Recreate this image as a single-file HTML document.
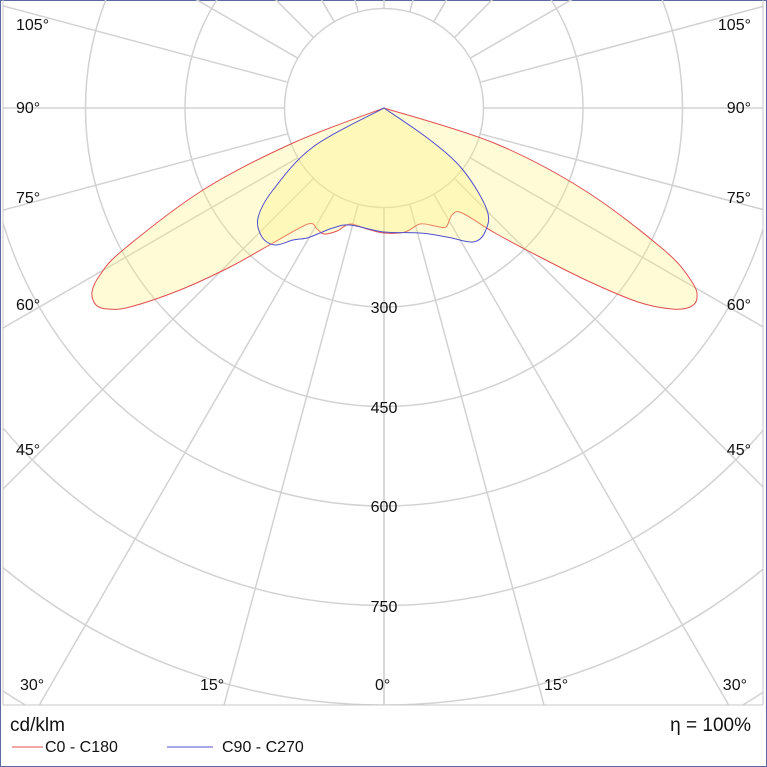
<!DOCTYPE html>
<html><head><meta charset="utf-8"><style>
html,body{margin:0;padding:0;background:#fff;overflow:hidden;width:767px;height:767px}
svg{position:absolute;left:0;top:0;overflow:hidden}
text{font-family:"Liberation Sans",sans-serif;fill:#111}
</style></head><body>
<svg width="767" height="767" viewBox="0 0 767 767" xmlns="http://www.w3.org/2000/svg">
<defs><clipPath id="c"><rect x="3" y="0" width="760" height="705"/></clipPath></defs>
<rect x="0.5" y="0.5" width="766" height="766" fill="#fff" stroke="#5a6aa0"/>
<g clip-path="url(#c)" stroke="#d2d2d2" stroke-width="1.5" fill="none">
<circle cx="384" cy="108" r="99.5"/>
<circle cx="384" cy="108" r="199"/>
<circle cx="384" cy="108" r="298.5"/>
<circle cx="384" cy="108" r="398"/>
<circle cx="384" cy="108" r="497.5"/>
<circle cx="384" cy="108" r="597"/>
<circle cx="384" cy="108" r="696.5"/>
<circle cx="384" cy="108" r="796"/>
<g id="rl">
<line x1="384" y1="207.5" x2="384" y2="1108"/>
<line x1="409.8" y1="204.1" x2="642.8" y2="1074"/>
<line x1="433.8" y1="194.2" x2="884" y2="974"/>
<line x1="454.4" y1="178.4" x2="1091" y2="815"/>
<line x1="470.2" y1="157.8" x2="1250" y2="608"/>
<line x1="480.1" y1="133.8" x2="1350" y2="366.8"/>
<line x1="483.5" y1="108" x2="1384" y2="108"/>
<line x1="480.1" y1="82.2" x2="1350" y2="-150.8"/>
<line x1="470.2" y1="58.2" x2="1250" y2="-392"/>
<line x1="454.4" y1="37.6" x2="1091" y2="-599"/>
<line x1="433.8" y1="21.8" x2="884" y2="-758"/>
<line x1="409.8" y1="11.9" x2="642.8" y2="-858"/>
</g>
<use href="#rl" transform="translate(768,0) scale(-1,1)"/>
<line x1="384" y1="8.5" x2="384" y2="-900"/>
</g>
<line x1="3" y1="0" x2="3" y2="705" stroke="#c8c8c8"/>
<line x1="763" y1="0" x2="763" y2="705" stroke="#c8c8c8"/>
<line x1="3" y1="705" x2="763" y2="705" stroke="#c8c8c8"/>
<path id="red" d="" fill="#fff27a" fill-opacity="0.3" stroke="#e05050" stroke-width="1"/>
<path id="blue" d="" fill="#fff27a" fill-opacity="0.3" stroke="#5050d0" stroke-width="1"/>
<g font-size="16">
<text x="16" y="30">105°</text><text x="16" y="113">90°</text><text x="16" y="203">75°</text>
<text x="16" y="310">60°</text><text x="16" y="455">45°</text><text x="20" y="690">30°</text>
<text x="200" y="690">15°</text><text x="375" y="690">0°</text><text x="544" y="690">15°</text>
<text x="751" y="30" text-anchor="end">105°</text><text x="751" y="113" text-anchor="end">90°</text>
<text x="751" y="203" text-anchor="end">75°</text><text x="751" y="310" text-anchor="end">60°</text>
<text x="751" y="455" text-anchor="end">45°</text><text x="747" y="690" text-anchor="end">30°</text>
<text x="384" y="313" text-anchor="middle">300</text><text x="384" y="413" text-anchor="middle">450</text>
<text x="384" y="512" text-anchor="middle">600</text><text x="384" y="612" text-anchor="middle">750</text>
</g>
<text x="10" y="731" font-size="19">cd/klm</text>
<text x="751" y="731" font-size="19" text-anchor="end">η = 100%</text>
<line x1="12" y1="747" x2="43" y2="747" stroke="#e05050"/>
<text x="45" y="752" font-size="16">C0 - C180</text>
<line x1="167" y1="747" x2="213" y2="747" stroke="#5050d0"/>
<text x="222" y="752" font-size="16">C90 - C270</text>
</svg>
<script>
function smooth(p){var n=p.length,d="M"+p[0][0]+","+p[0][1],t=0.5/3;
function g(i){return p[Math.max(0,Math.min(n-1,i))];}
for(var i=0;i<n-1;i++){var p0=g(i-1),p1=g(i),p2=g(i+1),p3=g(i+2);
d+=" C"+(p1[0]+(p2[0]-p0[0])*t).toFixed(1)+","+(p1[1]+(p2[1]-p0[1])*t).toFixed(1)+" "+(p2[0]-(p3[0]-p1[0])*t).toFixed(1)+","+(p2[1]-(p3[1]-p1[1])*t).toFixed(1)+" "+p2[0]+","+p2[1];}
return d+"Z";}
var red=[[384,108],[293,143],[203,190],[123,250],[100,275],[92,292],[96,305],[108,309],[130,307],[180,290],[230,267],[273,243],[308,224],[317,229],[324,234],[337,231],[350,224],[367,229],[384,233],[405,232],[420,224],[435,226],[446,227],[452,215],[462,213],[495,233],[538,256],[588,281],[638,302],[672,309],[690,307],[697,298],[692,282],[664,250],[584,190],[494,143],[384,108]];
var blue=[[384,108],[313,147],[273,190],[258,218],[262,237],[275,245],[293,240],[307,238],[320,233],[333,228],[350,225],[384,232],[420,233],[447,237],[473,242],[485,232],[487,210],[463,170],[430,140],[384,108]];
document.getElementById("red").setAttribute("d",smooth(red));
document.getElementById("blue").setAttribute("d",smooth(blue));
</script>
</body></html>
